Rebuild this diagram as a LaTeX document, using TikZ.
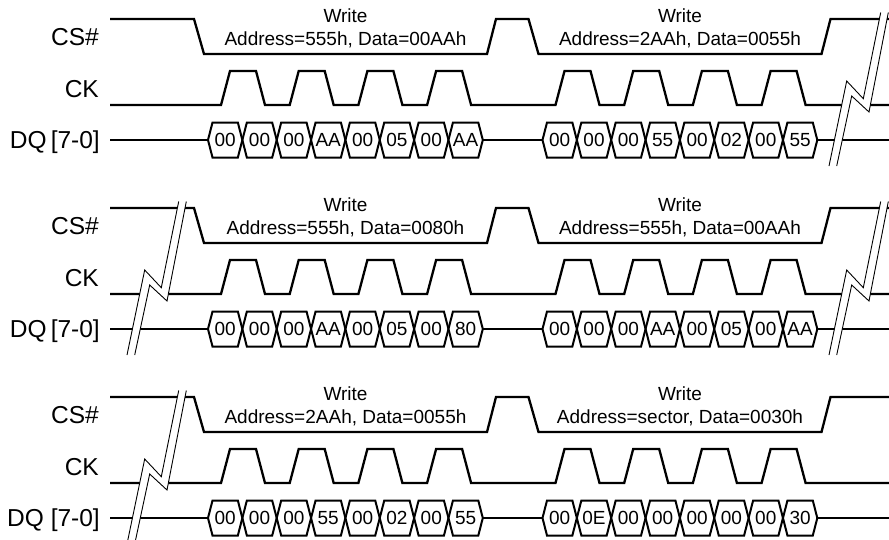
\documentclass[tikz,border=0pt]{standalone}
\usepackage{fontspec}
\setmainfont{Liberation Sans}
\tikzset{
  sig/.style={line width=2.3pt},
  cell/.style={line width=2pt, line join=miter},
  brkline/.style={line width=0.9pt},
  lbl/.style={anchor=base east, inner sep=0pt, font=\fontsize{24.5}{28}\selectfont},
  wr/.style={anchor=base, inner sep=0pt, font=\fontsize{19}{22}\selectfont},
  val/.style={inner sep=0pt, font=\fontsize{19}{22}\selectfont},
  pics/brk/.style={code={
    % white band with its zig-zag, covering the signals it crosses
    \fill[white] (0,0) -- (17.7,-85) -- (34.3,-67.3) -- (51.7,-153.5)
      -- (59.3,-153.5) -- (40,-54) -- (22.7,-70) -- (7.7,0) -- cycle;
    \fill[white] (18,-50) -- (22.7,-70) -- (40,-54) -- (40,-50) -- cycle;
    \draw[brkline] (0,0) -- (17.7,-85) -- (34.3,-67.3) -- (51.7,-153.5);
    \draw[brkline] (7.7,0) -- (22.7,-70) -- (40,-54) -- (59.3,-153.5);
  }}
}
% one command cycle: CS#, CK and DQ for two write cycles
% #1 vertical offset, #2/#3 data bytes, #4/#5 address text, #6 DQ label
\newcommand\timingrow[6]{%
  \node[lbl] (cs#1) at (99,{45+#1}) {CS\#};
  \node[lbl] (ck#1) at (99,{97.3+#1}) {CK};
  \node[lbl] (dq#1) at (100,{148.3+#1}) {#6};
  % chip select
  \draw[sig] (110,{19+#1}) -- (194,{19+#1}) -- (204,{54+#1}) -- (487,{54+#1})
    -- (496,{19+#1}) -- (528.5,{19+#1}) -- (538.5,{54+#1}) -- (821.5,{54+#1})
    -- (830.5,{19+#1}) -- (889,{19+#1});
  % clock
  \draw[sig] (110,{105+#1})
    \foreach \s in {221,289.7,358.4,427.1,555.5,624.2,692.9,761.6}{
      -- (\s,{105+#1}) -- ++(9,-34) -- ++(26,0) -- ++(9,34) }
    -- (889,{105+#1});
  % data bus idle segments
  \draw[sig] (110,{140+#1}) -- (208,{140+#1});
  \draw[sig] (482.8,{140+#1}) -- (542.5,{140+#1});
  \draw[sig] (816.8,{140+#1}) -- (889,{140+#1});
  % data bus cells
  \foreach \v [count=\i from 0] in {#2}{
    \pgfmathsetmacro\xa{208+\i*34.35}
    \draw[cell] (\xa,{140+#1}) -- ++(4.5,-17.5) -- ++(25.35,0) -- ++(4.5,17.5)
      -- ++(-4.5,17.5) -- ++(-25.35,0) -- cycle;
    \node[val] (a#1n\i) at ({\xa+17.175},{140+#1}) {\v};
  }
  \foreach \v [count=\i from 0] in {#3}{
    \pgfmathsetmacro\xa{542.5+\i*34.35}
    \draw[cell] (\xa,{140+#1}) -- ++(4.5,-17.5) -- ++(25.35,0) -- ++(4.5,17.5)
      -- ++(-4.5,17.5) -- ++(-25.35,0) -- cycle;
    \node[val] (b#1n\i) at ({\xa+17.175},{140+#1}) {\v};
  }
  % cycle captions
  \node[wr] (wa#1) at (345.5,{22.7+#1}) {Write};
  \node[wr] (ta#1) at (345.5,{45+#1}) {#4};
  \node[wr] (wb#1) at (680,{22.7+#1}) {Write};
  \node[wr] (tb#1) at (680,{45+#1}) {#5};
}
\begin{document}
\begin{tikzpicture}[x=1pt,y=-1pt]
\useasboundingbox (0,0) rectangle (889,539);
\clip (0,0) rectangle (889,539);
\timingrow{0}{00,00,00,AA,00,05,00,AA}{00,00,00,55,00,02,00,55}%
  {Address=555h, Data=00AAh}{Address=2AAh, Data=0055h}{DQ\,[7-0]}
\timingrow{189}{00,00,00,AA,00,05,00,80}{00,00,00,AA,00,05,00,AA}%
  {Address=555h, Data=0080h}{Address=555h, Data=00AAh}{DQ\,[7-0]}
\timingrow{378}{00,00,00,55,00,02,00,55}{00,0E,00,00,00,00,00,30}%
  {Address=2AAh, Data=0055h}{Address=sector, Data=0030h}{DQ [7-0]}
% time breaks between the command cycles
\pic at (829,166) {brk};
\pic at (127,355) {brk};
\pic at (829,355) {brk};
\pic at (127,544) {brk};
\end{tikzpicture}
\end{document}
